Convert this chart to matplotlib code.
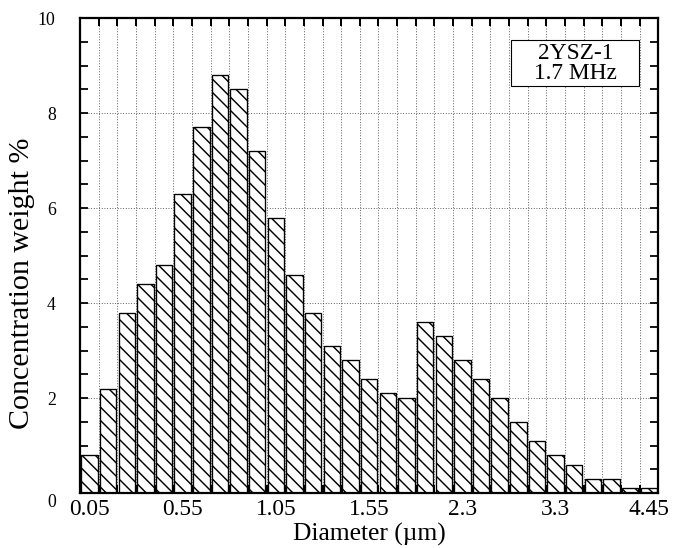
import matplotlib
matplotlib.use("Agg")
import matplotlib.pyplot as plt
from matplotlib.patches import Rectangle
import numpy as np

# Data (concentration weight % per diameter bin)
weights = [0.8, 2.2, 3.8, 4.4, 4.8, 6.3, 7.7, 8.8, 8.5, 7.2, 5.8, 4.6, 3.8, 3.1,
           2.8, 2.4, 2.1, 2.0, 3.6, 3.3, 2.8, 2.4, 2.0, 1.5, 1.1, 0.8, 0.6, 0.3,
           0.3, 0.1, 0.1]
tick_labels = ["0.05", "0.55", "1.05", "1.55", "2.3", "3.3", "4.45"]
tick_bins = [0, 5, 10, 15, 20, 25, 30]
y_ticks = [0, 2, 4, 6, 8, 10]
annotation = "2YSZ-1\n1.7 MHz"

plt.rcParams["font.family"] = ["Liberation Serif", "DejaVu Serif"]
plt.rcParams["hatch.linewidth"] = 1.3

DPI = 80
fig = plt.figure(figsize=(673 / DPI, 548 / DPI), dpi=DPI)
ax = fig.add_axes([0.119, 0.100, 0.859, 0.867])

n = len(weights)
x = np.arange(n)
ax.bar(x, weights, width=0.88, color="white", edgecolor="black",
       linewidth=1.2, hatch="\\\\", zorder=2)

ax.set_xlim(-0.5, n - 0.5)
ax.set_ylim(0, 10)

# grid
for b in np.arange(0.5, n - 0.5, 1.0):
    ax.axvline(b, color="#444444", linestyle=(0, (1, 2)), linewidth=0.8, zorder=1)
for yv in y_ticks[1:-1]:
    ax.axhline(yv, color="#444444", linestyle=(0, (1, 2)), linewidth=0.8, zorder=1)

# ticks
ax.set_xticks(np.arange(-0.5, n, 1.0), minor=True)
ax.set_xticks(tick_bins)
ax.set_xticklabels(tick_labels, fontsize=21)
ax.tick_params(axis="x", which="major", length=0, pad=5)
ax.tick_params(axis="x", which="minor", direction="in", length=7, width=1.8,
               top=True, bottom=True)
ax.set_yticks(y_ticks)
ax.set_yticklabels([""] + [str(v) for v in y_ticks[1:]], fontsize=16)
ax.set_yticks(np.arange(0, 10.01, 0.5), minor=True)
ax.tick_params(axis="y", which="both", direction="in", length=7, width=1.6,
               left=True, right=True, pad=22)
# the "0" label sits slightly lower-left in the reference
ax.annotate(str(y_ticks[0]), xy=(0, y_ticks[0]), xycoords=("axes fraction", "data"),
            xytext=(-22, -8), textcoords="offset points", ha="right", va="center",
            fontsize=16, annotation_clip=False)

for s in ax.spines.values():
    s.set_linewidth(2.0)

ax.set_xlabel("Diameter (\u00b5m)", fontsize=23, labelpad=3)
ax.set_ylabel("Concentration weight %", fontsize=27)
ax.yaxis.set_label_coords(-0.078, 0.442)

ax.add_patch(Rectangle((0.746, 0.857), 0.221, 0.097, transform=ax.transAxes,
                       facecolor="white", edgecolor="black", linewidth=1.0,
                       zorder=4))
ax.text(0.8565, 0.905, annotation, transform=ax.transAxes, ha="center", va="center",
        fontsize=21, linespacing=0.95, zorder=5)

fig.savefig("out.png", dpi=DPI)
